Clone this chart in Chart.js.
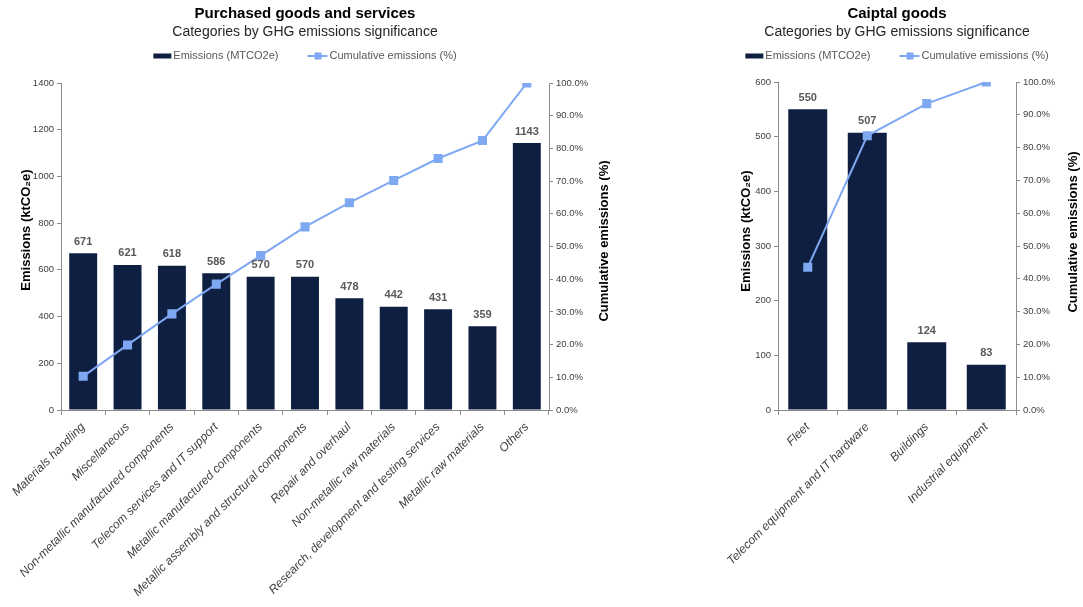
<!DOCTYPE html>
<html>
<head>
<meta charset="utf-8">
<script src="https://cdn.jsdelivr.net/npm/chart.js@4.4.0/dist/chart.umd.min.js"></script>
<style>
  html, body { margin: 0; padding: 0; background: #fff; }
  body { width: 1083px; height: 607px; position: relative; overflow: hidden; }
  .chart-box { position: absolute; top: 0; height: 607px; }
  #purchasedBox { left: 0; width: 610px; }
  #capitalBox { left: 711px; width: 372px; }
</style>
</head>
<body>
<div class="chart-box" id="purchasedBox"><canvas id="purchasedChart"></canvas></div>
<div class="chart-box" id="capitalBox"><canvas id="capitalChart"></canvas></div>
<script>
// Purchased goods and services
const purchasedLabels = [
    'Materials handling',
    'Miscellaneous',
    'Non-metallic manufactured components',
    'Telecom services and IT support',
    'Metallic manufactured components',
    'Metallic assembly and structural components',
    'Repair and overhaul',
    'Non-metallic raw materials',
    'Research, development and testing services',
    'Metallic raw materials',
    'Others',
];
const purchasedEmissions = [671, 621, 618, 586, 570, 570, 478, 442, 431, 359, 1143];
const purchasedCumulative = [10.3, 19.9, 29.4, 38.5, 47.2, 56.0, 63.4, 70.2, 76.9, 82.4, 100.0];

// Capital goods
const capitalLabels = ['Fleet', 'Telecom equipment and IT hardware', 'Buildings', 'Industrial equipment'];
const capitalEmissions = [550, 507, 124, 83];
const capitalCumulative = [43.5, 83.6, 93.4, 100.0];

const barLegendText = 'Emissions (MTCO2e)';
const lineLegendText = 'Cumulative emissions (%)';
const subtitleText = 'Categories by GHG emissions significance';
const leftAxisText = 'Emissions (ktCO\u2082e)';
const rightAxisText = 'Cumulative emissions (%)';

const NAVY = '#0E1F42';
const LIGHT_BLUE = '#7FA8F2';
const AXIS_GREY = '#8C8C8C';
const TEXT_GREY = '#404040';
const FONT = '"Liberation Sans", Arial, sans-serif';

const PLOT_BOTTOM = 410;

// values above the bars
const barValueLabels = {
    id: 'barValueLabels',
    afterDatasetsDraw(chart) {
        const ctx = chart.ctx;
        const meta = chart.getDatasetMeta(0);
        const values = chart.data.datasets[0].data;
        ctx.save();
        ctx.font = 'bold 11px ' + FONT;
        ctx.fillStyle = '#595959';
        ctx.textAlign = 'center';
        ctx.textBaseline = 'middle';
        meta.data.forEach((bar, i) => ctx.fillText(String(values[i]), bar.x, bar.y - 11.5));
        ctx.restore();
    }
};

// axis titles (right one reads bottom to top, like the left one)
const axisTitles = {
    id: 'axisTitles',
    afterDraw(chart, args, opts) {
        const ctx = chart.ctx;
        ctx.save();
        ctx.font = 'bold 13px ' + FONT;
        ctx.fillStyle = '#000';
        ctx.textAlign = 'center';
        ctx.textBaseline = 'middle';
        const drawUp = (text, x, y) => {
            ctx.save();
            ctx.translate(x, y);
            ctx.rotate(-Math.PI / 2);
            ctx.fillText(text, 0, 0);
            ctx.restore();
        };
        drawUp(leftAxisText, opts.leftX, opts.leftY);
        drawUp(rightAxisText, chart.scales.yR.left + opts.rightOffset, opts.rightY);
        ctx.restore();
    }
};

// legend: flat bar swatch, line with square marker
const chartLegend = {
    id: 'chartLegend',
    afterDraw(chart, args, opts) {
        const ctx = chart.ctx;
        ctx.save();
        ctx.font = '11px ' + FONT;
        ctx.textBaseline = 'middle';
        ctx.textAlign = 'left';
        const w1 = ctx.measureText(barLegendText).width;
        const w2 = ctx.measureText(lineLegendText).width;
        const total = 18 + 2 + w1 + 29 + 20 + 2 + w2;
        let x = chart.width / 2 - total / 2;
        const y = opts.y;
        ctx.fillStyle = NAVY;
        ctx.fillRect(x, y - 2.5, 18, 5);
        x += 20;
        ctx.fillStyle = '#595959';
        ctx.fillText(barLegendText, x, y);
        x += w1 + 29;
        ctx.strokeStyle = LIGHT_BLUE;
        ctx.lineWidth = 2;
        ctx.beginPath();
        ctx.moveTo(x, y);
        ctx.lineTo(x + 20, y);
        ctx.stroke();
        ctx.fillStyle = LIGHT_BLUE;
        ctx.fillRect(x + 7, y - 3.5, 7, 7);
        x += 22;
        ctx.fillStyle = '#595959';
        ctx.fillText(lineLegendText, x, y);
        ctx.restore();
    }
};

function makeChart(canvasId, setup) {
    const ctx = document.getElementById(canvasId).getContext('2d');
    return new Chart(ctx, {
        data: {
            labels: setup.labels,
            datasets: [{
                type: 'bar',
                label: barLegendText,
                data: setup.emissions,
                backgroundColor: NAVY,
                yAxisID: 'y',
                order: 1,
                barPercentage: setup.barPercentage,
                categoryPercentage: 1,
            }, {
                type: 'line',
                label: lineLegendText,
                data: setup.cumulative,
                borderColor: LIGHT_BLUE,
                backgroundColor: LIGHT_BLUE,
                borderWidth: 2,
                pointStyle: 'rect',
                pointRadius: 5,
                pointHoverRadius: 5,
                tension: 0,
                yAxisID: 'yR',
                order: 0,
            }],
        },
        options: {
            responsive: true,
            maintainAspectRatio: false,
            animation: false,
            layout: {padding: 0},
            plugins: {
                legend: {display: false},
                tooltip: {enabled: false},
                title: {
                    display: true,
                    text: setup.title,
                    color: '#000',
                    font: {family: FONT, size: 15, weight: 'bold'},
                    padding: {top: 5, bottom: 0},
                },
                subtitle: {
                    display: true,
                    text: subtitleText,
                    color: '#262626',
                    font: {family: FONT, size: 14},
                    padding: {top: 1, bottom: setup.plotTop - 40.8},
                },
                chartLegend: {y: setup.legendY},
                axisTitles: setup.axisTitles,
            },
            scales: {
                x: {
                    grid: {display: true, drawOnChartArea: false, drawTicks: true, tickLength: 5, color: AXIS_GREY, offset: true},
                    border: {display: true, color: AXIS_GREY},
                    ticks: {
                        color: TEXT_GREY,
                        font: {family: FONT, size: setup.xFontSize, style: 'italic'},
                        minRotation: 45,
                        maxRotation: 45,
                        autoSkip: false,
                        padding: 5,
                    },
                    afterFit: (scale) => {
                        scale.height = 607 - PLOT_BOTTOM;
                        scale.paddingLeft = 0;
                        scale.paddingRight = 0;
                    },
                },
                y: {
                    position: 'left',
                    min: 0,
                    max: setup.yMax,
                    ticks: {
                        stepSize: setup.yStep,
                        color: TEXT_GREY,
                        font: {family: FONT, size: 9.5},
                        padding: 3,
                        callback: (value) => String(value),
                    },
                    grid: {drawOnChartArea: false, tickLength: 4, color: AXIS_GREY},
                    border: {color: AXIS_GREY},
                    afterFit: (scale) => { scale.width = setup.leftWidth; },
                },
                yR: {
                    position: 'right',
                    min: 0,
                    max: 100,
                    ticks: {
                        stepSize: 10,
                        color: TEXT_GREY,
                        font: {family: FONT, size: 9.5},
                        padding: 3,
                        callback: (value) => value.toFixed(1) + '%',
                    },
                    grid: {drawOnChartArea: false, tickLength: 4, color: AXIS_GREY},
                    border: {color: AXIS_GREY},
                    afterFit: (scale) => { scale.width = setup.rightWidth; },
                },
            },
        },
        plugins: [barValueLabels, axisTitles, chartLegend],
    });
}

makeChart('purchasedChart', {
    title: 'Purchased goods and services',
    labels: purchasedLabels,
    emissions: purchasedEmissions,
    cumulative: purchasedCumulative,
    barPercentage: 0.63,
    yMax: 1400,
    yStep: 200,
    xFontSize: 12,
    plotTop: 83,
    legendY: 56,
    leftWidth: 61,
    rightWidth: 61,
    axisTitles: {leftX: 26, leftY: 230, rightOffset: 55, rightY: 241},
});

makeChart('capitalChart', {
    title: 'Caiptal goods',
    labels: capitalLabels,
    emissions: capitalEmissions,
    cumulative: capitalCumulative,
    barPercentage: 0.655,
    yMax: 600,
    yStep: 100,
    xFontSize: 12,
    plotTop: 82,
    legendY: 56,
    leftWidth: 67,
    rightWidth: 67,
    axisTitles: {leftX: 35, leftY: 231, rightOffset: 57, rightY: 232},
});
</script>
</body>
</html>
